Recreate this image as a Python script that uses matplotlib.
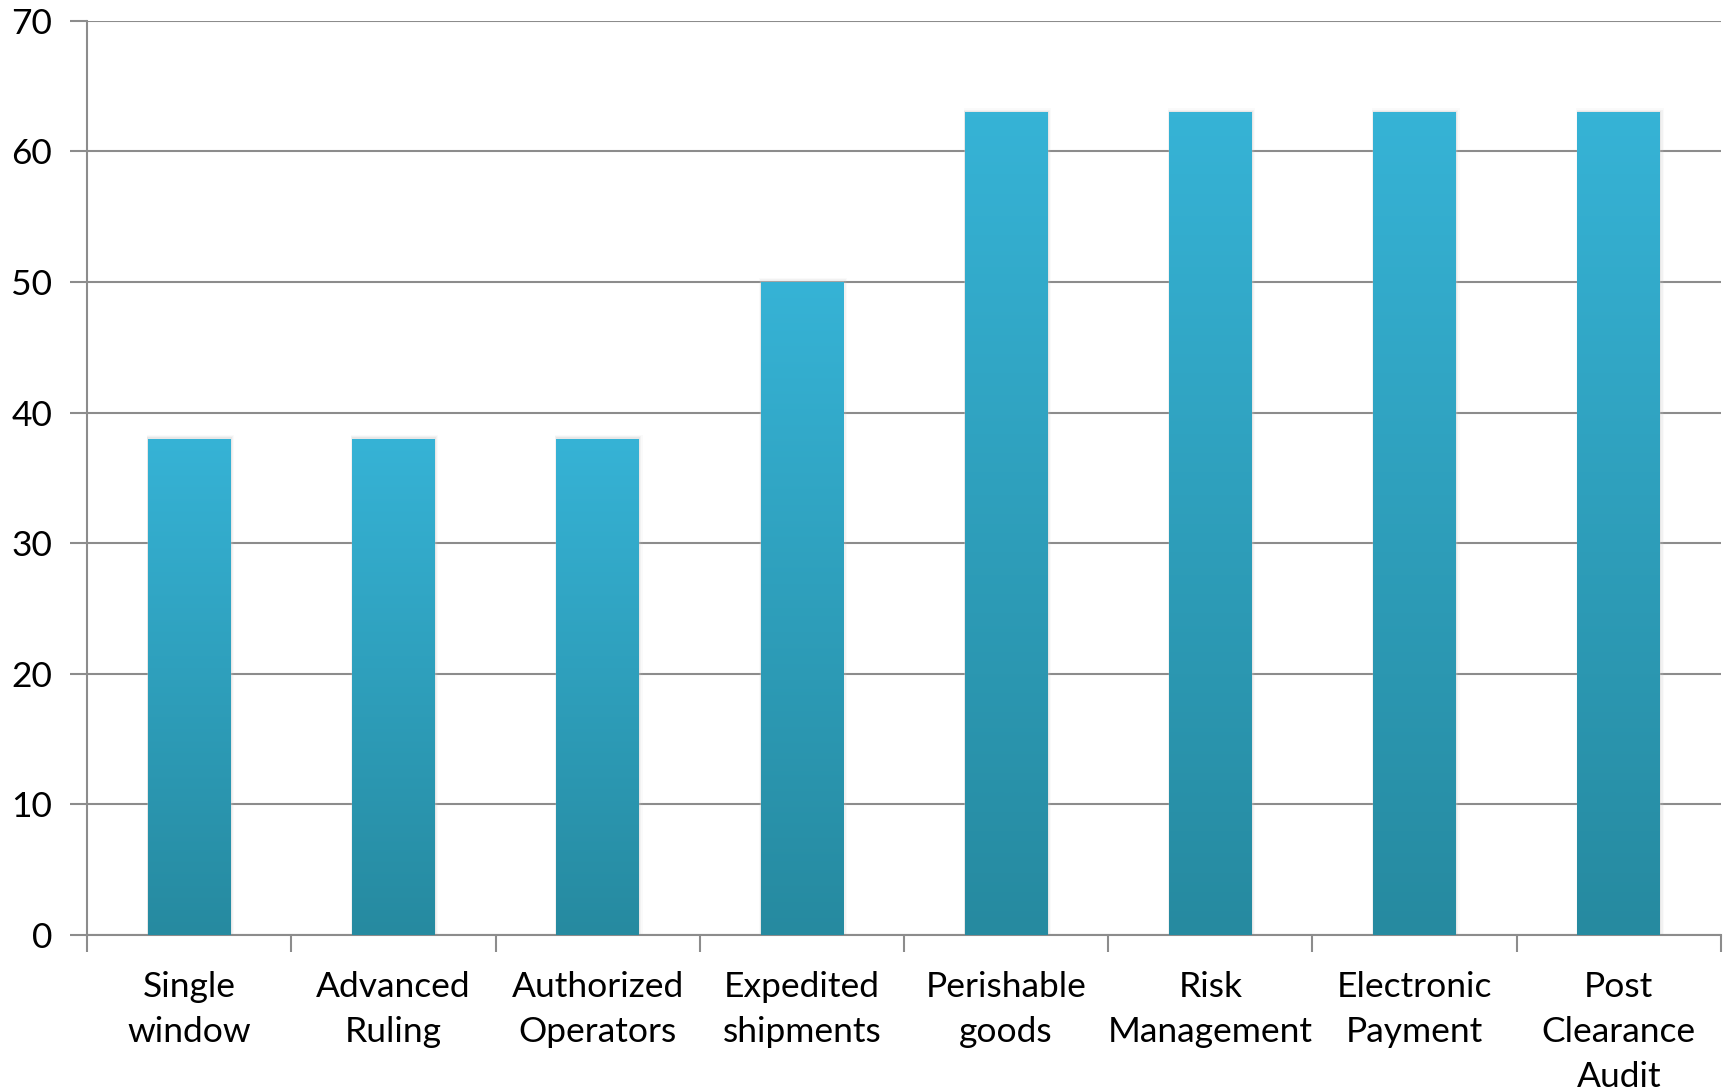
import matplotlib
matplotlib.use("Agg")
import matplotlib.pyplot as plt
import numpy as np
from matplotlib.colors import LinearSegmentedColormap
from matplotlib.patches import Rectangle

categories = ["Single\nwindow", "Advanced\nRuling", "Authorized\nOperators", "Expedited\nshipments",
              "Perishable\ngoods", "Risk\nManagement", "Electronic\nPayment", "Post\nClearance\nAudit"]
values = [38, 38, 38, 50, 63, 63, 63, 63]
yticks = [0, 10, 20, 30, 40, 50, 60, 70]

plt.rcParams['font.family'] = ['Lato', 'DejaVu Sans']

fig = plt.figure(figsize=(17.27, 10.91), dpi=100)
ax = fig.add_axes([0.0504, 0.143, 0.9461, 0.838])

x = np.arange(len(categories))
width = 0.405
grid_c = "#8c8c8c"

ax.set_xlim(-0.5, len(categories) - 0.5)
ax.set_ylim(0, 70)
ax.set_yticks(yticks)
ax.yaxis.grid(True, color=grid_c, linewidth=1.5)
ax.set_axisbelow(True)

cmap = LinearSegmentedColormap.from_list("g", ["#268aa0", "#36b3d6"])
grad = np.linspace(0, 1, 256).reshape(-1, 1)

bars = ax.bar(x, values, width=width, color="none", zorder=3)
for b in bars:
    x0, y0 = b.get_x(), b.get_y()
    w, h = b.get_width(), b.get_height()
    # subtle shadow
    for k, a in enumerate([0.25, 0.15, 0.08]):
        d = 0.004 * (k + 1)
        sh = Rectangle((x0 - d * 0.5, y0), w + d * 2, h + 0.1 * (k + 1), facecolor="#c8c8c8",
                       edgecolor="none", zorder=2, alpha=a)
        ax.add_patch(sh)
    im = ax.imshow(grad, extent=[x0, x0 + w, y0, y0 + h], origin="lower",
                   aspect="auto", cmap=cmap, zorder=3, interpolation="bicubic")
    im.set_clip_path(b)

ax.set_xlim(-0.5, len(categories) - 0.5)
ax.set_ylim(0, 70)

ax.set_xticks(np.arange(len(categories) + 1) - 0.5, minor=False)
ax.set_xticklabels([])
ax.set_xticks(x, minor=True)
ax.set_xticklabels(categories, minor=True, fontsize=25.5, linespacing=1.5)
ax.tick_params(axis="x", which="major", length=12, width=1.5, color=grid_c, direction="out")
ax.tick_params(axis="x", which="minor", length=0, pad=26)
ax.tick_params(axis="y", length=12, width=1.5, color=grid_c, labelsize=25.5, pad=13)

for side in ["top", "right"]:
    ax.spines[side].set_visible(False)
for side in ["left", "bottom"]:
    ax.spines[side].set_color(grid_c)
    ax.spines[side].set_linewidth(1.5)

fig.savefig("out.png", dpi=100, facecolor="white")
